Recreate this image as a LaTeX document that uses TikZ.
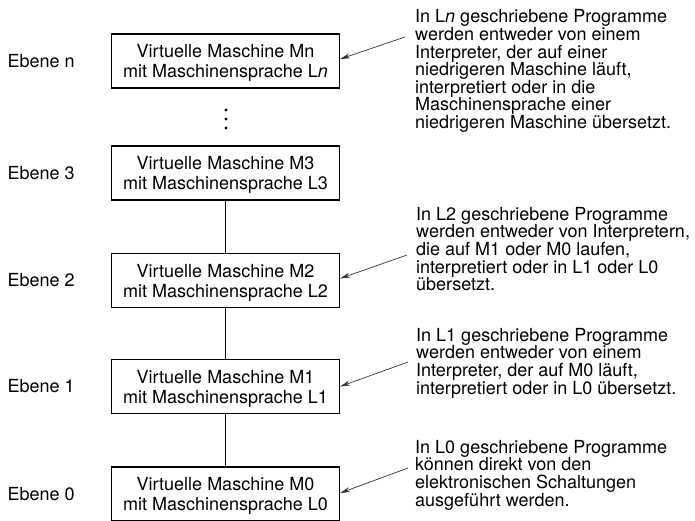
\documentclass[tikz,border=0pt]{standalone}
\usepackage{fontspec}
\setmainfont{TeX Gyre Heros}
\usetikzlibrary{arrows.meta,positioning}

\begin{document}
\begin{tikzpicture}[x=1pt,y=-1pt,
  machine/.style={draw,line width=1.3pt,minimum width=228pt,minimum height=54pt,
    align=center,inner sep=0pt,text depth=0pt,font=\fontsize{18}{20}\selectfont},
  level/.style={inner sep=0pt,font=\fontsize{18}{20}\selectfont},
  note/.style={anchor=north west,align=left,inner sep=0pt,font=\fontsize{18}{17.6}\selectfont},
  pointer/.style={-{Stealth[length=10pt,width=5pt]},line width=0.7pt,black!80}]
  \useasboundingbox (0,0) rectangle (695,520);

  % the machines
  \node[machine] (mn) at (225.5,61)  {Virtuelle Maschine Mn\\mit Maschinensprache L\textit{n}};
  \node[machine] (m3) at (225.5,173) {Virtuelle Maschine M3\\mit Maschinensprache L3};
  \node[machine] (m2) at (225.5,280.5) {Virtuelle Maschine M2\\mit Maschinensprache L2};
  \node[machine] (m1) at (225.5,386.5) {Virtuelle Maschine M1\\mit Maschinensprache L1};
  \node[machine] (m0) at (225.5,494) {Virtuelle Maschine M0\\mit Maschinensprache L0};

  \node[level,left=36pt of mn] {Ebene n};
  \node[level,left=36pt of m3] {Ebene 3};
  \node[level,left=36pt of m2] {Ebene 2};
  \node[level,left=36pt of m1] {Ebene 1};
  \node[level,left=36pt of m0] {Ebene 0};

  \foreach \y in {110,119,128}
    \fill (226,\y) circle (1.6pt);

  \draw[line width=1.3pt] (m3.south) -- (m2.north);
  \draw[line width=1.3pt] (m2.south) -- (m1.north);
  \draw[line width=1.3pt] (m1.south) -- (m0.north);

  % the notes
  \node[note] (tn) at (415,9.6) {In L\textit{n} geschriebene Programme\\werden entweder von einem\\Interpreter, der auf einer\\niedrigeren Maschine läuft,\\interpretiert oder in die\\Maschinensprache einer\\niedrigeren Maschine übersetzt.};
  \node[note] (t2) at (416,207) {In L2 geschriebene Programme\\werden entweder von Interpretern,\\die auf M1 oder M0 laufen,\\interpretiert oder in L1 oder L0\\übersetzt.};
  \node[note] (t1) at (416,328) {In L1 geschriebene Programme\\werden entweder von einem\\Interpreter, der auf M0 läuft,\\interpretiert oder in L0 übersetzt.};
  \node[note] (t0) at (415,440) {In L0 geschriebene Programme\\können direkt von den\\elektronischen Schaltungen\\ausgeführt werden.};

  \coordinate (fn) at (405,37);
  \coordinate (f2) at (407,255);
  \coordinate (f1) at (408,362);
  \coordinate (f0) at (408,468);
  \draw[pointer] (fn) -- ([yshift=2pt]mn.east);
  \draw[pointer] (f2) -- ([yshift=2pt]m2.east);
  \draw[pointer] (f1) -- (m1.east);
  \draw[pointer] (f0) -- ([yshift=1pt]m0.east);
\end{tikzpicture}
\end{document}
